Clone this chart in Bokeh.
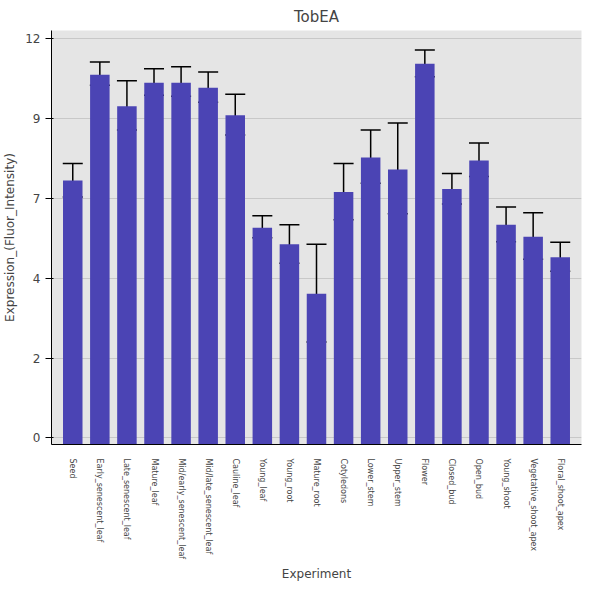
from bokeh.plotting import figure
from bokeh.models import ColumnDataSource, FixedTicker, Whisker
from bokeh.embed import file_html
from bokeh.resources import INLINE
import math

categories = ["Seed","Early_senescent_leaf","Late_senescent_leaf","Mature_leaf","Mid/early_senescent_leaf",
              "Mid/late_senescent_leaf","Cauline_leaf","Young_leaf","Young_root","Mature_root","Cotyledons",
              "Lower_stem","Upper_stem","Flower","Closed_bud","Open_bud","Young_shoot",
              "Vegetative_shoot_apex","Floral_shoot_apex"]
values = [7.74,10.92,9.97,10.68,10.68,10.53,9.70,6.32,5.82,4.33,7.39,8.43,8.07,11.25,7.48,8.34,6.41,6.05,5.43]
upper = [8.25,11.30,10.74,11.10,11.16,11.00,10.33,6.68,6.41,5.82,8.25,9.26,9.47,11.66,7.95,8.87,6.94,6.77,5.88]
lower = [7.24,10.60,9.26,10.30,10.27,10.09,9.11,6.02,5.25,2.88,6.56,7.66,6.74,10.86,7.03,7.86,5.90,5.37,5.01]
tick_vals = [0, 2.4, 4.8, 7.2, 9.6, 12]
tick_labels = ["0", "2", "4", "7", "9", "12"]

src = ColumnDataSource(dict(x=categories, top=values, upper=upper, lower=lower))
p = figure(x_range=categories, y_range=(-0.2, 12.25), width=584, height=584,
           output_backend="svg", toolbar_location=None, title="TobEA",
           x_axis_label="Experiment", y_axis_label="Expression_(Fluor_Intensity)")
p.vbar(x="x", top="top", bottom=-0.2, width=0.72, source=src, fill_color="#4b44b4", line_color=None)
w = Whisker(base="x", upper="upper", lower="lower", source=src, line_color="black", line_width=1.5)
w.upper_head.size = 20; w.lower_head.size = 20
w.upper_head.line_width = 1.5; w.lower_head.line_width = 1.5
p.add_layout(w)
p.title.align = "center"; p.title.text_font_style = "normal"; p.title.text_font_size = "15px"
p.title.text_font = "DejaVu Sans"
p.background_fill_color = "#e5e5e5"
p.grid.grid_line_color = "#c8c8c8"
p.xgrid.grid_line_color = None
p.yaxis.ticker = FixedTicker(ticks=tick_vals)
p.yaxis.major_label_overrides = {v: l for v, l in zip(tick_vals, tick_labels)}
p.xaxis.major_label_orientation = -math.pi/2
p.xaxis.major_label_text_font_size = "8px"
p.xaxis.major_tick_line_color = None
p.xaxis.major_label_standoff = 8
p.yaxis.minor_tick_line_color = None
for ax in (p.xaxis, p.yaxis):
    ax.axis_label_text_font_style = "normal"
    ax.axis_label_text_font_size = "12px"
    ax.axis_label_text_font = "DejaVu Sans"
    ax.major_label_text_font = "DejaVu Sans"
p.yaxis.major_label_text_font_size = "12px"
p.x_range.range_padding = 0.03
p.outline_line_color = None
p.border_fill_color = "white"
p.min_border_right = 3
open("out.html", "w").write(file_html(p, INLINE))
